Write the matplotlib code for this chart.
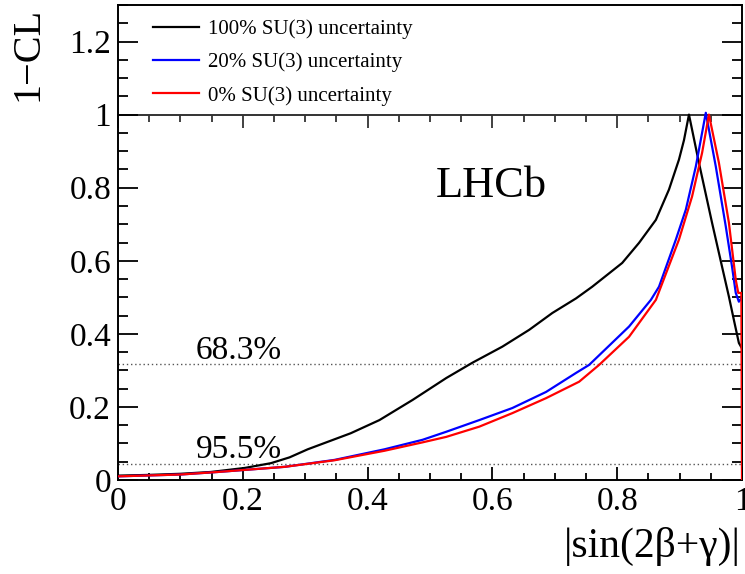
import matplotlib
matplotlib.use("Agg")
import matplotlib.pyplot as plt
from matplotlib.ticker import MultipleLocator

plt.rcParams['font.family'] = ['Liberation Serif', 'DejaVu Serif']

# 1-CL scans
x_100 = [0, 0.05, 0.10, 0.149, 0.203, 0.245, 0.275, 0.304, 0.373, 0.419, 0.472,
         0.526, 0.568, 0.616, 0.659, 0.696, 0.734, 0.760, 0.808, 0.835, 0.862,
         0.883, 0.899, 0.907, 0.915, 0.931, 0.952, 0.968, 0.979, 0.987, 0.995, 1.0]
y_100 = [0.012, 0.014, 0.017, 0.022, 0.033, 0.046, 0.062, 0.084, 0.128, 0.164, 0.219,
         0.279, 0.321, 0.365, 0.411, 0.457, 0.497, 0.529, 0.594, 0.649, 0.712,
         0.795, 0.877, 0.93, 1.0, 0.868, 0.704, 0.584, 0.502, 0.438, 0.375, 0.36]

x_20 = [0, 0.1, 0.16, 0.267, 0.347, 0.427, 0.488, 0.526, 0.579, 0.632, 0.686,
        0.734, 0.755, 0.819, 0.854, 0.867, 0.894, 0.910, 0.926, 0.942, 0.958,
        0.974, 0.984, 0.990, 0.995, 1.0]
y_20 = [0.010, 0.015, 0.022, 0.036, 0.055, 0.084, 0.110, 0.132, 0.164, 0.197, 0.241,
        0.293, 0.315, 0.42, 0.493, 0.529, 0.658, 0.740, 0.858, 1.005, 0.858,
        0.694, 0.584, 0.512, 0.488, 0.50]

x_0 = [0, 0.1, 0.16, 0.267, 0.347, 0.427, 0.488, 0.526, 0.579, 0.632, 0.686,
       0.739, 0.771, 0.819, 0.862, 0.899, 0.920, 0.936, 0.947, 0.963, 0.979,
       0.990, 0.994, 0.999, 1.0]
y_0 = [0.010, 0.015, 0.022, 0.036, 0.054, 0.080, 0.103, 0.118, 0.146, 0.183, 0.224,
       0.269, 0.315, 0.392, 0.493, 0.658, 0.776, 0.895, 1.0, 0.868, 0.704,
       0.548, 0.512, 0.512, 0.0]

labels = ['100% SU(3) uncertainty', '20% SU(3) uncertainty', '0% SU(3) uncertainty']
colors = ['black', 'blue', 'red']

cl_levels = [0.317, 0.045]
cl_labels = ['68.3%', '95.5%']

yticks = [0, 0.2, 0.4, 0.6, 0.8, 1.0, 1.2]
yticklabels = ['0', '0.2', '0.4', '0.6', '0.8', '1', '1.2']
xticks = [0, 0.2, 0.4, 0.6, 0.8, 1.0]
xticklabels = ['0', '0.2', '0.4', '0.6', '0.8', '1']

fig = plt.figure(figsize=(7.45, 5.74), dpi=100)
ax = fig.add_axes([118 / 745, 94 / 574, 624 / 745, 475 / 574])

for xs, ys, c, lab in zip([x_100, x_20, x_0], [y_100, y_20, y_0], colors, labels):
    ax.plot(xs, ys, color=c, lw=1.6, label=lab, zorder=3)

for lev, lab in zip(cl_levels, cl_labels):
    ax.axhline(lev, color='#555555', lw=1.0, ls=(0, (1, 2)), zorder=1)
    ax.text(0.125, lev + 0.015, lab, fontsize=24, ha='left', va='baseline')

ax.text(0.51, 0.775, 'LHCb', fontsize=32, ha='left', va='baseline')

ax.set_xlim(0, 1)
ax.set_ylim(0, 1.3)
ax.set_xticks(xticks)
ax.set_xticklabels(xticklabels)
ax.set_yticks(yticks)
ax.set_yticklabels(yticklabels)
ax.xaxis.set_minor_locator(MultipleLocator(0.05))
ax.yaxis.set_minor_locator(MultipleLocator(0.05))
ax.tick_params(axis='x', which='major', direction='in', length=9.4, width=1.3,
               labelsize=24, pad=5, top=False)
ax.tick_params(axis='x', which='minor', direction='in', length=5, width=1.3, top=False)
ax.tick_params(axis='y', which='major', direction='in', length=14.4, width=1.3,
               labelsize=24, pad=5, right=True)
ax.tick_params(axis='y', which='minor', direction='in', length=7.2, width=1.3, right=True)
for sp in ax.spines.values():
    sp.set_linewidth(1.4)

# frame line at 1-CL = 1 with its own x ticks
sec = ax.secondary_xaxis(1.0 / 1.3)
sec.set_xticks(xticks)
sec.xaxis.set_minor_locator(MultipleLocator(0.05))
sec.tick_params(which='major', direction='in', length=9.4, width=1.3, labelbottom=False,
                labeltop=False, colors='#333333')
sec.tick_params(which='minor', direction='in', length=5, width=1.3, colors='#333333')
sec.spines['top'].set_linewidth(1.4)
sec.spines['top'].set_color('#333333')
sec.set_xticklabels([])

ax.legend(loc='upper left', bbox_to_anchor=(0.056, 0.97), frameon=False, fontsize=15,
          handlelength=2.2, handletextpad=0.45, labelspacing=0.65, borderpad=0,
          borderaxespad=0)

fig.text(28 / 745, 1 - 7 / 574, '1\u2212CL', fontsize=29, rotation=90, ha='center', va='top')
fig.text(741 / 745, 17 / 574, '|sin(2\u03b2+\u03b3)|', fontsize=30, ha='right', va='baseline')

fig.savefig('out.png', dpi=100)
